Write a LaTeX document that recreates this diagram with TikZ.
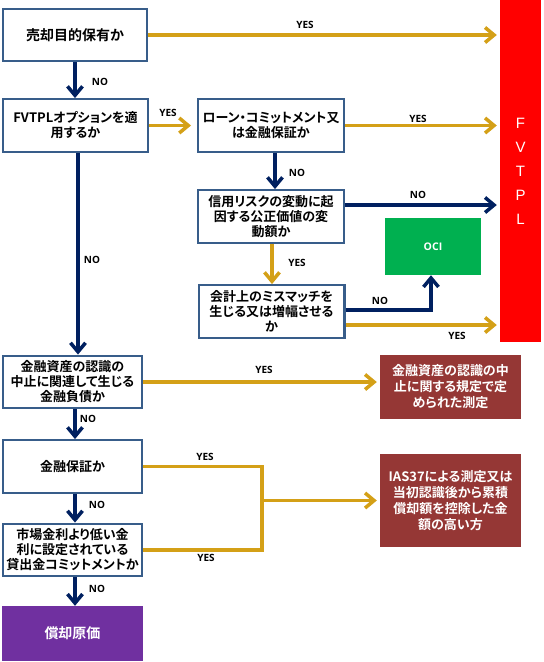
\documentclass[tikz,border=0pt]{standalone}
\usepackage{fontspec}
\setmainfont{Noto Sans CJK JP}[BoldFont={Noto Sans CJK JP Bold},RawFeature=+palt]
\newfontfamily\lblfont{Open Sans}
\newfontfamily\arialfont{Liberation Sans}
\usetikzlibrary{arrows.meta}
\definecolor{boxblue}{RGB}{56,93,138}
\definecolor{navy}{RGB}{0,32,96}
\definecolor{gold}{RGB}{212,160,23}
\definecolor{okgreen}{RGB}{0,176,80}
\definecolor{brick}{RGB}{149,55,53}
\definecolor{plum}{RGB}{112,48,160}
\begin{document}
\begin{tikzpicture}[x=1pt, y=-1pt, line join=miter,
    box/.style={draw=boxblue, line width=2.4pt, fill=white, align=center, inner sep=0pt, minimum width=145.6pt, minimum height=52.5pt, font=\bfseries\fontsize{13}{15}\selectfont},
    endbox/.style={align=center, inner sep=0pt, text=white, font=\bfseries\fontsize{13}{16}\selectfont},
    lbl/.style={inner sep=0pt, font=\lblfont\bfseries\fontsize{10}{12}\selectfont},
    noarr/.style={draw=navy, line width=3.5pt, -{Straight Barb[length=9pt,width=15pt]}},
    yesline/.style={draw=gold, line width=3.5pt},
    yesarr/.style={yesline, -{Straight Barb[length=9pt,width=15pt]}}]
    \useasboundingbox (0,0) rectangle (544,662);
    % boxes
    \node[box, minimum width=143.6pt] (hold) at (75,35) {\fontsize{14}{15}\selectfont 売却目的保有か};
    \node[box, minimum width=144.6pt] (fvo) at (75.5,125.5) {FVTPLオプションを適\\用するか};
    \node[box] (loan) at (271,125.5) {ローン・コミットメント又\\は金融保証か};
    \node[box] (credit) at (271,216.5) {信用リスクの変動に起\\因する公正価値の変\\動額か};
    \node[box] (mism) at (271.5,311.5) {会計上のミスマッチを\\生じる又は増幅させる\\か};
    \node[box, minimum width=138.6pt] (derec) at (72.5,382) {金融資産の認識の\\中止に関連して生じる\\金融負債か};
    \node[box, minimum width=138.6pt] (guar) at (72.5,466.5) {金融保証か};
    \node[box, minimum width=138.6pt] (below) at (72.5,550) {市場金利より低い金\\利に設定されている\\貸出金コミットメントか};
    % results
    \node[endbox, fill=red, minimum width=41pt, minimum height=342pt, font=\arialfont\fontsize{15}{24}\selectfont] (fvtpl) at (520.5,171) {F\\V\\T\\P\\L};
    \node[endbox, fill=okgreen, minimum width=96pt, minimum height=57pt, font=\lblfont\bfseries\fontsize{10.5}{12}\selectfont] (oci) at (433,246.5) {OCI};
    \node[endbox, fill=plum, minimum width=141pt, minimum height=55pt, font=\bfseries\fontsize{14}{16}\selectfont] (amort) at (72.5,633.5) {償却原価};
    \node[endbox, fill=brick, minimum width=141pt, minimum height=64pt] (derecm) at (450.5,387) {金融資産の認識の中\\止に関する規定で定\\められた測定};
    \node[endbox, fill=brick, minimum width=141pt, minimum height=93pt] (ias) at (450.5,500.5) {IAS37による測定又は\\当初認識後から累積\\償却額を控除した金\\額の高い方};
    % connectors
    \draw[yesarr, shorten >=3pt] (hold) -- (hold -| fvtpl.west);
    \draw[noarr] (hold.south) -- (hold.south |- fvo.north);
    \draw[yesarr, shorten >=6pt] (fvo) -- (loan);
    \draw[noarr] ([xshift=2.5pt]fvo.south) -- ([xshift=2.5pt]fvo.south |- derec.north);
    \draw[yesarr, shorten >=3pt] (loan) -- (loan -| fvtpl.west);
    \draw[noarr] ([xshift=4pt]loan.south) -- ([xshift=4pt]loan.south |- credit.north);
    \draw[noarr, shorten >=3pt] ([yshift=11.5pt]credit.east) -- ([yshift=11.5pt]credit.east -| fvtpl.west);
    \draw[yesarr] ([xshift=1pt]credit.south) -- ([xshift=1pt]credit.south |- mism.north);
    \draw[noarr] ([yshift=1.5pt]mism.east) -| ([xshift=-2pt]oci.south);
    \draw[yesarr, shorten >=3pt] ([yshift=-13.5pt]mism.east) -- ([yshift=-13.5pt]mism.east -| fvtpl.west);
    \draw[yesarr, shorten >=3pt] (derec.east) -- (derec.east -| derecm.west);
    \draw[noarr] ([xshift=2.5pt]derec.south) -- ([xshift=2.5pt]derec.south |- guar.north);
    \draw[noarr] ([xshift=2.5pt]guar.south) -- ([xshift=2.5pt]guar.south |- below.north);
    \draw[noarr] ([xshift=2.5pt]below.south) -- ([xshift=2.5pt]below.south |- amort.north);
    \coordinate (mrg) at (262,500.5);
    \draw[yesline] (guar.east) -| (mrg);
    \draw[yesline] (below.east) -| (mrg);
    \draw[yesarr, shorten >=3pt] (mrg) -- (ias.west);
    % labels
    \node[lbl] (y1) at (305,25) {YES};
    \node[lbl] (n1) at (100,82) {NO};
    \node[lbl] (y2) at (168,113) {YES};
    \node[lbl] (n2) at (92,260) {NO};
    \node[lbl] (y3) at (418,119) {YES};
    \node[lbl] (n3) at (297,173) {NO};
    \node[lbl] (n4) at (418,195) {NO};
    \node[lbl] (y4) at (297,263) {YES};
    \node[lbl] (n5) at (380,301) {NO};
    \node[lbl] (y5) at (457,336) {YES};
    \node[lbl] (y6) at (264,370) {YES};
    \node[lbl] (n6) at (88,419) {NO};
    \node[lbl] (y7) at (205,457) {YES};
    \node[lbl] (n7) at (97,505) {NO};
    \node[lbl] (y8) at (206,558) {YES};
    \node[lbl] (n8) at (97,589) {NO};
\end{tikzpicture}
\end{document}
